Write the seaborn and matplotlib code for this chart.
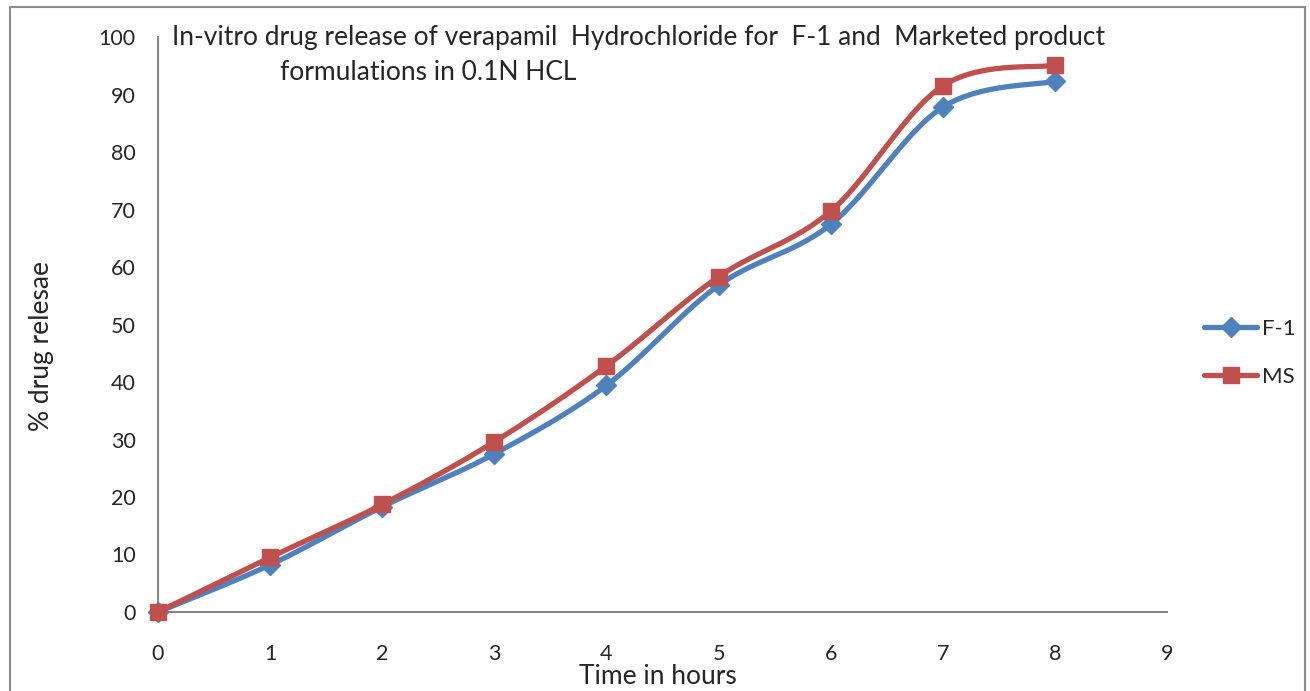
import numpy as np
import pandas as pd
import matplotlib
matplotlib.use("Agg")
import matplotlib.pyplot as plt
from matplotlib.lines import Line2D
from matplotlib.patches import Rectangle
import seaborn as sns

hours = [0, 1, 2, 3, 4, 5, 6, 7, 8]
f1_release = [0, 8.2, 18.3, 27.5, 39.4, 56.8, 67.4, 87.8, 92.3]
ms_release = [0, 9.5, 18.7, 29.6, 42.8, 58.3, 69.7, 91.5, 95.1]
series_names = ["F-1", "MS"]
x_ticks = [0, 1, 2, 3, 4, 5, 6, 7, 8, 9]
y_ticks = [0, 10, 20, 30, 40, 50, 60, 70, 80, 90, 100]

BLUE = "#4F81BD"
RED = "#C0504D"
AXC = "#868686"


def smooth(x, y, n=30):
    # Excel-like smoothed line: cubic Bezier segments with Catmull-Rom control points
    x = np.asarray(x, float)
    y = np.asarray(y, float)
    P = np.column_stack([x, y])
    out = [P[0]]
    t = np.linspace(0, 1, n)[1:]
    for i in range(len(P) - 1):
        p0 = P[i - 1] if i > 0 else P[i]
        p1 = P[i]
        p2 = P[i + 1]
        p3 = P[i + 2] if i + 2 < len(P) else P[i + 1]
        c1 = p1 + (p2 - p0) / 6.0
        c2 = p2 - (p3 - p1) / 6.0
        for tt in t:
            b = ((1 - tt) ** 3) * p1 + 3 * ((1 - tt) ** 2) * tt * c1 + 3 * (1 - tt) * tt ** 2 * c2 + tt ** 3 * p2
            out.append(b)
    out = np.array(out)
    return out[:, 0], out[:, 1]


sns.set_style("white")
plt.rcParams["font.family"] = ["Lato", "DejaVu Sans"]

fig = plt.figure(figsize=(13.1, 6.91), dpi=100)
ax = fig.add_axes([158 / 1310, 1 - 612 / 691, (1167 - 158) / 1310, (612 - 37) / 691])

for name, vals, color, marker, msize in [
    ("F-1", f1_release, BLUE, "D", 10),
    ("MS", ms_release, RED, "s", 12),
]:
    sx, sy = smooth(hours, vals)
    sns.lineplot(x=sx, y=sy, ax=ax, color=color, linewidth=3.8, sort=False,
                 estimator=None, legend=False, zorder=2 if name == "F-1" else 4)
    ax.plot(hours, vals, linestyle="none", marker=marker, markersize=msize,
            color=color, markeredgecolor=color, zorder=3 if name == "F-1" else 5,
            clip_on=False)

ax.set_xlim(0, 9)
ax.set_ylim(0, 100)
ax.set_xticks(x_ticks)
ax.set_yticks(y_ticks)
ax.tick_params(axis="both", which="both", direction="out", length=6, width=1.2,
               color=AXC, labelsize=15.5, pad=10)
ax.tick_params(axis="x", pad=17)
for s in ["top", "right"]:
    ax.spines[s].set_visible(False)
for s in ["left", "bottom"]:
    ax.spines[s].set_color(AXC)
    ax.spines[s].set_linewidth(1.5)

fig.text(658 / 1310, 1 - 676 / 691, "Time in hours", ha="center", va="center", fontsize=19)
fig.text(42 / 1310, 1 - 346 / 691, "% drug relesae", ha="center", va="center",
         rotation=90, fontsize=19)

fig.text(172 / 1310, 1 - 37 / 691,
         "In-vitro drug release of verapamil  Hydrochloride for  F-1 and  Marketed product",
         ha="left", va="center", fontsize=19)
fig.text(280 / 1310, 1 - 72 / 691, "formulations in 0.1N HCL",
         ha="left", va="center", fontsize=19)

handles = [
    Line2D([0], [0], color=BLUE, linewidth=3.8, marker="D", markersize=10),
    Line2D([0], [0], color=RED, linewidth=3.8, marker="s", markersize=12),
]
fig.legend(handles, series_names, loc="center left",
           bbox_to_anchor=(1184 / 1310, 1 - 353 / 691), frameon=False,
           fontsize=16, handlelength=2.4, handletextpad=0.2, labelspacing=1.25)

fig.patches.append(Rectangle((10 / 1310, -0.05), (1305 - 10) / 1310, 1.05 - 7 / 691,
                             transform=fig.transFigure, fill=False,
                             edgecolor="#8c8c8c", linewidth=1.5))

fig.savefig("out.png", dpi=100)
